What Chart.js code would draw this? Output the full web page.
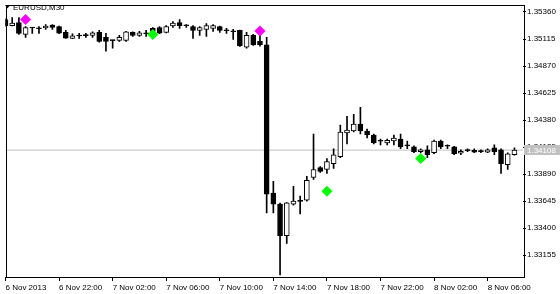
<!DOCTYPE html>
<html>
<head>
<meta charset="utf-8">
<script src="https://cdn.jsdelivr.net/npm/chart.js@4.4.0/dist/chart.umd.min.js"></script>
<style>
  html, body { margin: 0; padding: 0; background: #fff; }
</style>
</head>
<body>
<canvas id="chart" width="560" height="294"></canvas>
<script>
// EURUSD M30, 6 Nov 2013 18:00 .. 8 Nov 2013 08:00
const symbol = 'EURUSD,M30'
const timeLabels = ['6 Nov 2013', '6 Nov 22:00', '7 Nov 02:00', '7 Nov 06:00', '7 Nov 10:00',
  '7 Nov 14:00', '7 Nov 18:00', '7 Nov 22:00', '8 Nov 02:00', '8 Nov 06:00']
const barsPerLabel = 8
const priceTicks = [1.35360, 1.35115, 1.34870, 1.34625, 1.34380, 1.34135, 1.33890, 1.33645, 1.33400, 1.33155]
const bid = 1.34108

const opens = [
  1.35291, 1.35237, 1.35264, 1.35157, 1.35219, 1.35211, 1.35215, 1.35242, 1.35228, 1.35175,
  1.35121, 1.35145, 1.35150, 1.35148, 1.35175, 1.35130, 1.35103, 1.35103, 1.35103, 1.35175,
  1.35148, 1.35166, 1.35211, 1.35219, 1.35175, 1.35233, 1.35264, 1.35237, 1.35228, 1.35193,
  1.35202, 1.35211, 1.35228, 1.35193, 1.35184, 1.35193, 1.35041, 1.35148, 1.35094, 1.35063,
  1.33718, 1.33619, 1.33333, 1.33619, 1.33646, 1.33655, 1.33861, 1.33950, 1.33932, 1.33986,
  1.34048, 1.34263, 1.34281, 1.34343, 1.34281, 1.34245, 1.34191, 1.34174, 1.34191, 1.34209,
  1.34151, 1.34138, 1.34093, 1.34111, 1.34084, 1.34191, 1.34147, 1.34138, 1.34080, 1.34107,
  1.34107, 1.34098, 1.34089, 1.34129, 1.34111, 1.33977, 1.34066
]
const highs = [
  1.35300, 1.35309, 1.35309, 1.35228, 1.35221, 1.35228, 1.35246, 1.35246, 1.35233, 1.35193,
  1.35161, 1.35166, 1.35166, 1.35179, 1.35193, 1.35166, 1.35105, 1.35148, 1.35184, 1.35179,
  1.35184, 1.35193, 1.35219, 1.35228, 1.35237, 1.35273, 1.35291, 1.35246, 1.35237, 1.35228,
  1.35255, 1.35246, 1.35233, 1.35211, 1.35202, 1.35197, 1.35175, 1.35157, 1.35148, 1.35130,
  1.33825, 1.33628, 1.33632, 1.33780, 1.33691, 1.33870, 1.34254, 1.33959, 1.34031, 1.34120,
  1.34335, 1.34415, 1.34433, 1.34495, 1.34299, 1.34254, 1.34209, 1.34209, 1.34245, 1.34254,
  1.34191, 1.34147, 1.34120, 1.34147, 1.34200, 1.34200, 1.34156, 1.34142, 1.34111, 1.34120,
  1.34120, 1.34111, 1.34120, 1.34156, 1.34120, 1.34084, 1.34129
]
const lows = [
  1.35228, 1.35233, 1.35157, 1.35130, 1.35166, 1.35166, 1.35202, 1.35202, 1.35164, 1.35121,
  1.35119, 1.35121, 1.35130, 1.35130, 1.35086, 1.35005, 1.35032, 1.35094, 1.35094, 1.35139,
  1.35139, 1.35139, 1.35175, 1.35164, 1.35170, 1.35219, 1.35211, 1.35219, 1.35121, 1.35148,
  1.35139, 1.35184, 1.35175, 1.35166, 1.35112, 1.35048, 1.35032, 1.35057, 1.35050, 1.33539,
  1.33539, 1.32976, 1.33262, 1.33610, 1.33530, 1.33646, 1.33843, 1.33906, 1.33897, 1.33941,
  1.34040, 1.34165, 1.34272, 1.34254, 1.34218, 1.34165, 1.34156, 1.34156, 1.34156, 1.34120,
  1.34120, 1.34084, 1.34084, 1.34040, 1.34075, 1.34120, 1.34120, 1.34066, 1.34066, 1.34093,
  1.34084, 1.34084, 1.34084, 1.34066, 1.33897, 1.33932, 1.34062
]
const closes = [
  1.35237, 1.35260, 1.35166, 1.35219, 1.35215, 1.35208, 1.35233, 1.35219, 1.35168, 1.35123,
  1.35144, 1.35142, 1.35146, 1.35170, 1.35094, 1.35094, 1.35100, 1.35130, 1.35179, 1.35148,
  1.35170, 1.35163, 1.35184, 1.35168, 1.35228, 1.35260, 1.35237, 1.35235, 1.35193, 1.35219,
  1.35237, 1.35237, 1.35193, 1.35190, 1.35181, 1.35052, 1.35148, 1.35061, 1.35063, 1.33709,
  1.33619, 1.33333, 1.33630, 1.33646, 1.33643, 1.33834, 1.33932, 1.33914, 1.34004, 1.34066,
  1.34272, 1.34290, 1.34343, 1.34281, 1.34245, 1.34174, 1.34188, 1.34196, 1.34218, 1.34138,
  1.34147, 1.34093, 1.34111, 1.34066, 1.34191, 1.34138, 1.34143, 1.34075, 1.34098, 1.34104,
  1.34089, 1.34095, 1.34111, 1.34093, 1.33986, 1.34075, 1.34108
]

// signal arrows (bar index, price)
const buyBars = [22, 48, 62]
const buyLevels = [1.35157, 1.33736, 1.34031]
const sellBars = [3, 38]
const sellLevels = [1.35291, 1.35188]

// visible window
const xMin = 0
const xMax = 77.28
const yMin = 1.32958
const yMax = 1.35416

Chart.defaults.font.family = "'Liberation Sans', Arial, sans-serif"
Chart.defaults.font.size = 8
Chart.defaults.color = '#000'

const mtDecor = {
  id: 'mtDecor',
  afterDraw(chart) {
    const { ctx, chartArea: a, scales } = chart
    ctx.save()
    // frame
    ctx.strokeStyle = '#000'
    ctx.lineWidth = 1
    ctx.strokeRect(Math.round(a.left) + 0.5, Math.round(a.top) - 0.5, Math.round(a.right - a.left), Math.round(a.bottom - a.top) + 1)
    // bid label
    const y = Math.round(scales.y.getPixelForValue(bid))
    ctx.fillStyle = '#c0c0c0'
    ctx.fillRect(Math.round(a.right) + 1, y - 5, 36, 10)
    ctx.fillStyle = '#fff'
    ctx.font = "8px 'Liberation Sans', Arial, sans-serif"
    ctx.textBaseline = 'middle'
    ctx.fillText(bid.toFixed(5), Math.round(a.right) + 4, y + 0.5)
    // symbol title
    ctx.fillStyle = '#000'
    ctx.beginPath()
    ctx.moveTo(5, 5)
    ctx.lineTo(10, 5)
    ctx.lineTo(7.5, 8.5)
    ctx.closePath()
    ctx.fill()
    ctx.fillText(symbol, 13, 7.5)
    ctx.restore()
  },
}

new Chart(document.getElementById('chart'), {
  data: {
    datasets: [
      {
        type: 'line',
        label: 'sell',
        data: sellBars.map((b, i) => ({ x: b, y: sellLevels[i] })),
        showLine: false,
        pointStyle: 'rectRot',
        pointRadius: 5.5,
        pointBackgroundColor: '#ff00ff',
        pointBorderWidth: 0,
        order: -1,
      },
      {
        type: 'line',
        label: 'buy',
        data: buyBars.map((b, i) => ({ x: b, y: buyLevels[i] })),
        showLine: false,
        pointStyle: 'rectRot',
        pointRadius: 5.5,
        pointBackgroundColor: '#00ff00',
        pointBorderWidth: 0,
        order: -1,
      },
      {
        type: 'bar',
        label: 'body',
        data: opens.map((o, i) => ({ x: i, y: [o, closes[i]] })),
        backgroundColor: opens.map((o, i) => (closes[i] > o ? '#fff' : '#000')),
        borderColor: '#000',
        borderWidth: 1,
        borderSkipped: false,
        barThickness: 5,
        minBarLength: 1,
        grouped: false,
        order: 1,
      },
      {
        type: 'bar',
        label: 'wick',
        data: lows.map((l, i) => ({ x: i, y: [l, highs[i]] })),
        backgroundColor: '#000',
        borderWidth: 0,
        barThickness: 1,
        grouped: false,
        order: 2,
      },
      {
        type: 'line',
        label: 'bid',
        data: [{ x: xMin, y: bid }, { x: xMax, y: bid }],
        borderColor: '#c0c0c0',
        borderWidth: 1,
        pointRadius: 0,
        order: 3,
      },
    ],
  },
  options: {
    responsive: false,
    animation: false,
    events: [],
    layout: { padding: { left: 2, top: 2, right: 0, bottom: 0 } },
    plugins: { legend: { display: false }, tooltip: { enabled: false } },
    scales: {
      x: {
        type: 'linear',
        min: xMin,
        max: xMax,
        bounds: 'data',
        offset: false,
        border: { display: false },
        grid: { offset: false, drawOnChartArea: false, drawTicks: true, tickLength: 4, color: '#000' },
        ticks: {
          autoSkip: false,
          maxRotation: 0,
          align: 'start',
          padding: 2,
          callback: (v) => timeLabels[Math.round(v / barsPerLabel)],
        },
        afterBuildTicks: (axis) => {
          axis.ticks = timeLabels.map((_, j) => ({ value: j * barsPerLabel }))
        },
        afterFit: (axis) => {
          axis.height = 17
        },
      },
      y: {
        type: 'linear',
        position: 'right',
        min: yMin,
        max: yMax,
        bounds: 'data',
        border: { display: false },
        grid: { drawOnChartArea: false, drawTicks: true, tickLength: 3, color: '#000' },
        ticks: {
          padding: 1,
          callback: (v) => v.toFixed(5),
        },
        afterBuildTicks: (axis) => {
          axis.ticks = priceTicks.map((v) => ({ value: v }))
        },
        afterFit: (axis) => {
          axis.width = 37
        },
      },
    },
  },
  plugins: [mtDecor],
})
</script>
</body>
</html>
